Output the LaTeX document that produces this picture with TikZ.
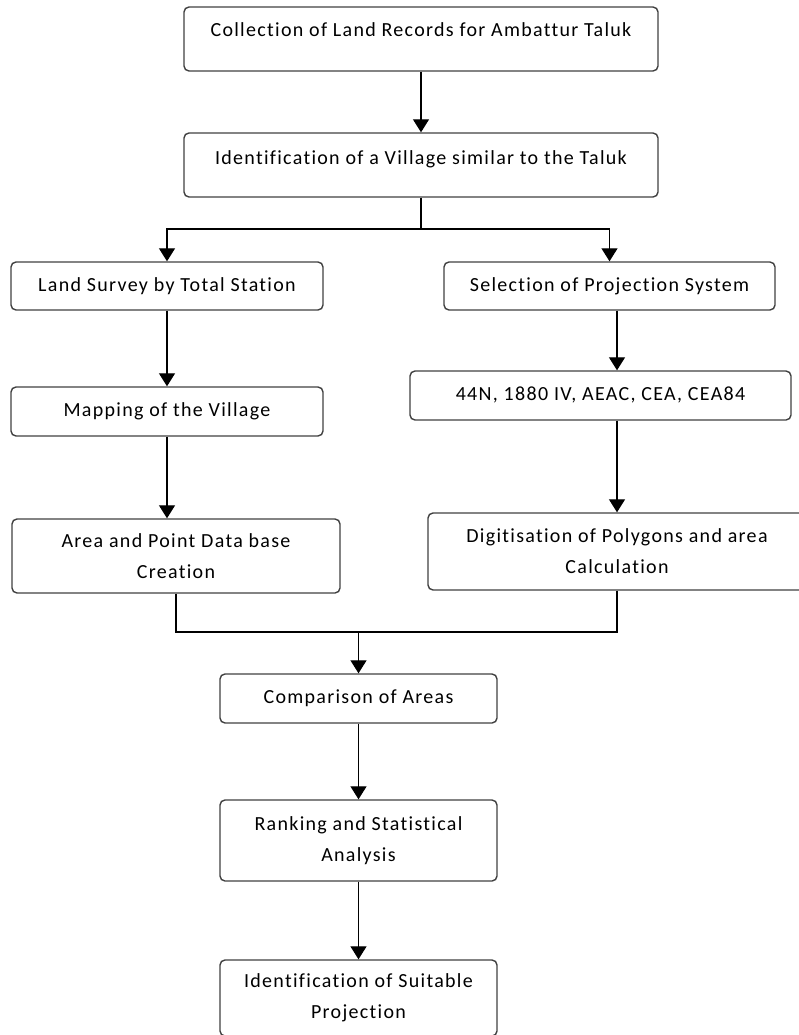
\documentclass[tikz,border=0pt]{standalone}
\usepackage{fontspec}
\setmainfont{Carlito}[LetterSpace=6.5, Ligatures=NoCommon]
\usepackage{tikz}
\usetikzlibrary{arrows.meta}

\begin{document}
\begin{tikzpicture}[
  x=1pt, y=-1pt,
  stepbox/.style={draw=black!75, line width=1.4pt, rounded corners=5pt,
    align=center, inner sep=0pt, font=\fontsize{20}{31}\selectfont},
  onebox/.style={stepbox, text height=14pt, text depth=#1},
  onebox/.default=4pt,
  flow/.style={line width=1.3pt, -{Triangle[width=16pt,length=13pt]}},
]
\useasboundingbox (0,0) rectangle (798,1035);
% top of the chart
\node[onebox=19pt, minimum width=474pt, minimum height=64pt] (collect) at (421,39)
  {Collection of Land Records for Ambattur Taluk};
\node[onebox=15pt, minimum width=474pt, minimum height=64pt] (village) at (421,165)
  {Identification of a Village similar to the Taluk};
\coordinate (split) at (421,229);
% left branch
\node[onebox, minimum width=312pt, minimum height=48pt] (survey) at (167,286)
  {Land Survey by Total Station};
\node[onebox, minimum width=312pt, minimum height=49pt] (mapping) at (167,411.5)
  {Mapping of the Village};
\node[stepbox, minimum width=328pt, minimum height=74pt] (database) at (176,556)
  {Area and Point Data base\\Creation};
% right branch
\node[onebox, minimum width=331pt, minimum height=48pt] (projsel) at (609.5,286)
  {Selection of Projection System};
\node[onebox, minimum width=381pt, minimum height=49pt] (systems) at (600.5,395.5)
  {44N, 1880 IV, AEAC, CEA, CEA84};
\node[stepbox, minimum width=378pt, minimum height=77pt] (digitise) at (617,551.5)
  {Digitisation of Polygons and area\\Calculation};
% bottom of the chart
\coordinate (join) at (358.5,632);
\node[onebox, minimum width=277pt, minimum height=49pt] (compare) at (358.5,698.5)
  {Comparison of Areas};
\node[stepbox, minimum width=277pt, minimum height=81pt] (ranking) at (358.5,840.5)
  {Ranking and Statistical\\Analysis};
\node[stepbox, minimum width=277pt, minimum height=76pt] (suitable) at (358.5,998)
  {Identification of Suitable\\Projection};

\draw[flow] (collect) -- (village);
\draw[line width=1.3pt] (village) -- (split);
\draw[flow] (split) -| (survey);
\draw[flow] (split) -| (projsel);
\draw[flow] (survey) -- (mapping);
\draw[flow] (mapping.south) -- (mapping.south |- database.north);
\draw[flow] (projsel.south -| digitise.north) -- (systems.north -| digitise.north);
\draw[flow] (systems.south -| digitise.north) -- (digitise);
\draw[line width=1.3pt] (database) |- (join);
\draw[line width=1.3pt] (digitise) |- (join);
\draw[flow] (join) -- (compare);
\draw[flow] (compare) -- (ranking);
\draw[flow] (ranking) -- (suitable);
\end{tikzpicture}
\end{document}
